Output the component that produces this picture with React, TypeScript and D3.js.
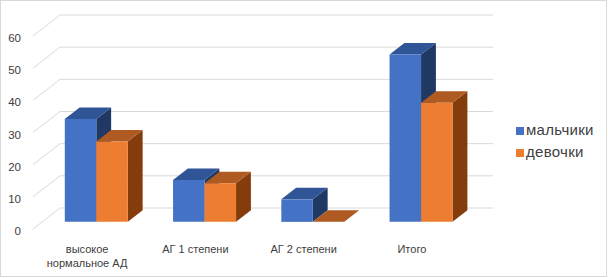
import React from "react";
import * as d3 from "d3";

const categories = ["высокое нормальное АД", "АГ 1 степени", "АГ 2 степени", "Итого"];
const seriesNames = ["мальчики", "девочки"];
const boys = [32, 13, 7, 52];
const girls = [25, 12, 0, 37];
const yTicks = [0, 10, 20, 30, 40, 50, 60];

const W = 608;
const H = 278;
const frontX0 = 33;
const frontX1 = 466;
const depthDX = 27;
const depthDY = -21;
const barF0 = 0.34;
const barDepth = 0.55;

const faceColors = [
  { front: "#4472C4", top: "#2F5597", side: "#1F3864" },
  { front: "#ED7D31", top: "#AE5A21", side: "#843C0C" },
];

function wrap(label: string): string[] {
  if (label.length > 14) {
    const i = label.indexOf(" ");
    return [label.slice(0, i), label.slice(i + 1)];
  }
  return [label];
}

export default function App() {
  const y = d3.scaleLinear().domain([0, 60]).range([229, 36]);
  const x = d3
    .scaleBand<string>()
    .domain(categories)
    .range([frontX0, frontX1])
    .paddingInner(0.418)
    .paddingOuter(0.209);
  const xs = d3.scaleBand<string>().domain(seriesNames).range([0, x.bandwidth()]);
  const values = [boys, girls];

  const P = (px: number, v: number, f: number) =>
    [px + depthDX * f, y(v) + depthDY * f] as [number, number];
  const poly = (pts: [number, number][]) => "M" + pts.map((p) => p.join(",")).join("L") + "Z";

  const bars: JSX.Element[] = [];
  categories.forEach((c, ci) => {
    seriesNames.forEach((s, si) => {
      const v = values[si][ci];
      const xl = (x(c) as number) + (xs(s) as number);
      const xr = xl + xs.bandwidth();
      const f0 = barF0;
      const f1 = barF0 + barDepth;
      const col = faceColors[si];
      const front = poly([P(xl, v, f0), P(xr, v, f0), P(xr, 0, f0), P(xl, 0, f0)]);
      const top = poly([P(xl, v, f0), P(xr, v, f0), P(xr, v, f1), P(xl, v, f1)]);
      const side = poly([P(xr, v, f0), P(xr, v, f1), P(xr, 0, f1), P(xr, 0, f0)]);
      bars.push(
        <g key={`${ci}-${si}`}>
          <path d={side} fill={col.side} />
          <path d={top} fill={col.top} />
          {v > 0 && <path d={front} fill={col.front} />}
        </g>
      );
    });
  });

  return (
    <div style={{ position: "absolute", left: 0, top: 0 }}>
      <svg width={W} height={H} style={{ display: "block", fontFamily: "'Liberation Sans', Arial, sans-serif" }}>
        <rect x={0.5} y={0.5} width={606} height={276} fill="#fff" stroke="#d9d9d9" />
        {yTicks.map((t) => (
          <g key={t} stroke="#d9d9d9" strokeWidth={1} fill="none">
            <line x1={frontX0} y1={y(t)} x2={frontX0 + depthDX} y2={y(t) + depthDY} />
            <line x1={frontX0 + depthDX} y1={y(t) + depthDY} x2={frontX1 + depthDX} y2={y(t) + depthDY} />
          </g>
        ))}
        {yTicks.map((t) => (
          <text key={"l" + t} x={21} y={y(t) + 2} textAnchor="end" dominantBaseline="central" fontSize={11.5} fill="#404040">
            {t}
          </text>
        ))}
        {bars}
        {categories.map((c) => {
          const cx = (x(c) as number) + x.bandwidth() / 2;
          return (
            <text key={c} x={cx} y={253} textAnchor="middle" fontSize={11} fill="#404040">
              {wrap(c).map((line, i) => (
                <tspan key={i} x={cx} dy={i === 0 ? 0 : 14}>
                  {line}
                </tspan>
              ))}
            </text>
          );
        })}
        {seriesNames.map((s, i) => (
          <g key={s} transform={`translate(516,${127 + i * 22})`}>
            <rect x={0} y={0} width={8} height={8} fill={faceColors[i].front} />
            <text x={10} y={8} fontSize={15} letterSpacing={0.3} fill="#404040">
              {s}
            </text>
          </g>
        ))}
      </svg>
    </div>
  );
}
